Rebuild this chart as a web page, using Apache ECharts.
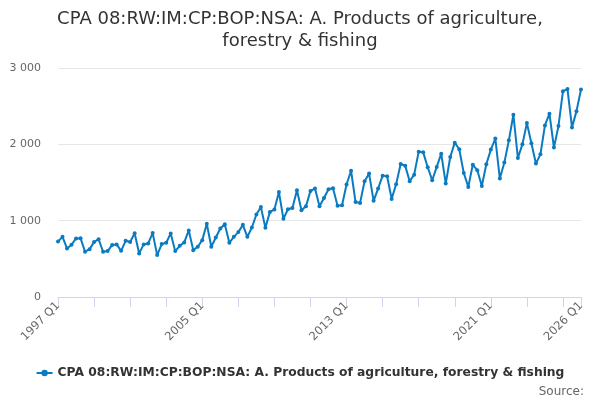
<!DOCTYPE html>
<html>
<head>
<meta charset="utf-8">
<script src="https://cdn.jsdelivr.net/npm/echarts@6/dist/echarts.min.js"></script>
<style>html,body{margin:0;padding:0;background:#fff;}#c{width:600px;height:400px;}</style>
</head>
<body>
<div id="c"></div>
<script>
var seriesName = 'CPA 08:RW:IM:CP:BOP:NSA: A. Products of agriculture, forestry & fishing';
var titleText = 'CPA 08:RW:IM:CP:BOP:NSA: A. Products of agriculture,\nforestry & fishing';
var firstYear = 1997;
var lastYear = 2026;
var quarters = ['Q1', 'Q2', 'Q3', 'Q4'];
var yTicks = [0, 1000, 2000, 3000];
var values = [
  728, 788, 636, 684, 767, 771, 593, 627, 719, 758, 593, 601, 680, 689, 605, 736,
  720, 836, 571, 689, 702, 837, 549, 693, 710, 833, 601, 671, 715, 872, 614, 658,
  745, 960, 658, 780, 898, 954, 710, 788, 850, 945, 788, 911, 1081, 1180, 906, 1115,
  1146, 1374, 1024, 1150, 1167, 1399, 1137, 1190, 1390, 1420, 1190, 1298, 1412, 1425, 1194, 1203,
  1473, 1654, 1244, 1233, 1516, 1617, 1260, 1420, 1590, 1582, 1285, 1477, 1743, 1721, 1516, 1603,
  1904, 1895, 1700, 1529, 1704, 1878, 1486, 1834, 2022, 1935, 1625, 1442, 1734, 1660, 1455, 1739,
  1931, 2075, 1552, 1761, 2052, 2388, 1821, 2000, 2278, 2013, 1748, 1869, 2248, 2401, 1957, 2239,
  2697, 2724, 2222, 2435, 2719
];
var categories = [];
for (var y = firstYear; y <= lastYear; y++) {
  for (var q = 0; q < 4; q++) {
    if (categories.length < values.length) categories.push(y + ' ' + quarters[q]);
  }
}
var lastIdx = categories.length - 1;
var FONT = 'DejaVu Sans';
var chart = echarts.init(document.getElementById('c'), null, {renderer: 'canvas'});
chart.setOption({
  animation: false,
  textStyle: {fontFamily: FONT},
  title: [{
    text: titleText,
    left: 'center',
    top: 3,
    textStyle: {fontFamily: FONT, fontSize: 18, fontWeight: 'normal', color: '#333333', lineHeight: 22}
  }, {
    text: 'Source:',
    right: 11,
    top: 381,
    textStyle: {fontFamily: FONT, fontSize: 12, fontWeight: 'normal', color: '#666666'}
  }],
  legend: {
    top: 362,
    left: 'center',
    itemWidth: 16,
    itemHeight: 8,
    itemGap: 5,
    textStyle: {fontFamily: FONT, fontSize: 12.3, fontWeight: 'bold', color: '#333333'},
    data: [seriesName]
  },
  grid: {left: 58, right: 19, top: 68, bottom: 103, containLabel: false},
  xAxis: {
    type: 'category',
    data: categories,
    boundaryGap: false,
    axisLine: {show: true, lineStyle: {color: '#ccd6eb', width: 1}},
    axisTick: {
      show: true,
      length: 10,
      lineStyle: {color: '#ccd6eb'},
      interval: function (i) { return i % 8 === 0 || i === lastIdx; }
    },
    axisLabel: {
      rotate: 45,
      margin: 7,
      color: '#666666',
      fontFamily: FONT,
      fontSize: 11.5,
      interval: function (i) { return i % 32 === 0 || i === lastIdx; }
    },
    splitLine: {show: false}
  },
  yAxis: {
    type: 'value',
    min: yTicks[0],
    max: yTicks[yTicks.length - 1],
    interval: 1000,
    axisLine: {show: false},
    axisTick: {show: false},
    axisLabel: {
      margin: 17,
      color: '#666666',
      fontFamily: FONT,
      fontSize: 11,
      formatter: function (v) { return String(v).replace(/\B(?=(\d{3})+(?!\d))/g, ' '); }
    },
    splitLine: {lineStyle: {color: '#e6e6e6', width: 1}}
  },
  series: [{
    name: seriesName,
    type: 'line',
    data: values,
    symbol: 'circle',
    symbolSize: 4,
    showSymbol: true,
    showAllSymbol: true,
    lineStyle: {color: '#0b7bc1', width: 2},
    itemStyle: {color: '#0b7bc1'}
  }]
});
</script>
</body>
</html>
